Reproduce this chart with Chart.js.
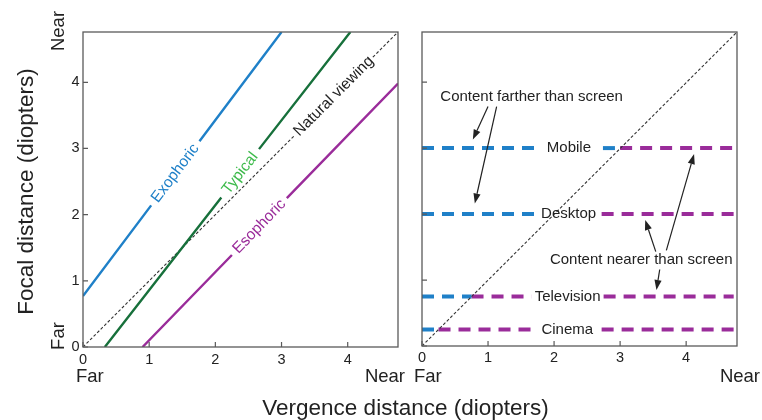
<!DOCTYPE html>
<html>
<head>
<meta charset="utf-8">
<script src="https://cdn.jsdelivr.net/npm/chart.js@4.4.1/dist/chart.umd.min.js"></script>
<style>
  html, body { margin: 0; padding: 0; background: #fff; }
  #wrap { position: relative; width: 762px; height: 420px; overflow: hidden; }
  canvas { position: absolute; top: 0; }
  #left { left: 0; }
  #right { left: 400px; }
</style>
</head>
<body>
<div id="wrap">
  <canvas id="left" width="762" height="420"></canvas>
  <canvas id="right" width="362" height="420"></canvas>
</div>
<script>
// ---- Left panel: vergence vs. focal distance by phoria ----
const tickValues = [0, 1, 2, 3, 4];
const leftMax = 4.76;

// Each line is two segments; the null entry is the gap left for its label
const exophoricX = [0, 1.03, null, 1.76, 3.0];
const exophoricY = [0.77, 2.14, null, 3.11, 4.76];
const typicalX   = [0.33, 2.09, null, 2.66, 4.04];
const typicalY   = [0, 2.26, null, 2.99, 4.76];
const esophoricX = [0.90, 2.25, null, 3.08, 4.76];
const esophoricY = [0, 1.39, null, 2.25, 3.98];
const naturalX   = [0, 3.2, null, 4.38, 4.76];
const naturalY   = [0, 3.2, null, 4.38, 4.76];

// ---- Right panel: screen distance per viewing device ----
const devices        = ['Mobile', 'Desktop', 'Television', 'Cinema'];
const screenDiopters = [3, 2, 0.75, 0.25];
const labelFrom      = [1.71, 1.72, 1.66, 1.68];
const labelTo        = [2.74, 2.72, 2.75, 2.72];
const deviceLineEnd  = 4.72;
const rightMaxX = 4.77;
const rightMaxY = 4.76;

const FONT = "'Liberation Sans', Arial, Helvetica, sans-serif";
const TEXT = '#222';
const BLUE = '#1f80c8';
const PURPLE = '#9a2c9a';
const DKGREEN = '#17703b';
const LTGREEN = '#3dba4b';

function toPoints(xs, ys) {
  return xs.map((x, i) => x === null ? { x: xs[i - 1], y: null } : { x: x, y: ys[i] });
}

function fixedTicks(scale) {
  scale.ticks = tickValues.map(v => ({ value: v }));
}

// Box round the plot area with short inward tick marks
const framePlugin = {
  id: 'frame',
  afterDatasetsDraw(chart) {
    const { ctx, chartArea: a, scales } = chart;
    ctx.save();
    ctx.strokeStyle = '#5a5a5a';
    ctx.lineWidth = 1.3;
    ctx.strokeRect(a.left, a.top, a.right - a.left, a.bottom - a.top);
    ctx.lineWidth = 1.2;
    ctx.beginPath();
    scales.x.ticks.forEach(t => {
      const px = scales.x.getPixelForValue(t.value);
      ctx.moveTo(px, a.bottom);
      ctx.lineTo(px, a.bottom - 5);
    });
    scales.y.ticks.forEach(t => {
      const py = scales.y.getPixelForValue(t.value);
      ctx.moveTo(a.left, py);
      ctx.lineTo(a.left + 5, py);
    });
    ctx.stroke();
    ctx.restore();
  }
};

// ---------- Left chart ----------
const leftSeries = [
  { name: 'Exophoric', xs: exophoricX, ys: exophoricY, color: BLUE, textColor: BLUE, width: 2.4, dash: [] },
  { name: 'Typical', xs: typicalX, ys: typicalY, color: DKGREEN, textColor: LTGREEN, width: 2.4, dash: [] },
  { name: 'Esophoric', xs: esophoricX, ys: esophoricY, color: PURPLE, textColor: PURPLE, width: 2.4, dash: [] },
  { name: 'Natural viewing', xs: naturalX, ys: naturalY, color: '#333', textColor: TEXT, width: 1.1, dash: [3, 2] }
];

const lineLabelPlugin = {
  id: 'lineLabels',
  afterDatasetsDraw(chart) {
    const { ctx, scales } = chart;
    ctx.save();
    ctx.font = '15.5px ' + FONT;
    ctx.textAlign = 'center';
    ctx.textBaseline = 'middle';
    leftSeries.forEach(s => {
      const g = s.xs.indexOf(null);
      const x1 = scales.x.getPixelForValue(s.xs[g - 1]);
      const y1 = scales.y.getPixelForValue(s.ys[g - 1]);
      const x2 = scales.x.getPixelForValue(s.xs[g + 1]);
      const y2 = scales.y.getPixelForValue(s.ys[g + 1]);
      ctx.save();
      ctx.translate((x1 + x2) / 2, (y1 + y2) / 2);
      ctx.rotate(Math.atan2(y2 - y1, x2 - x1));
      ctx.fillStyle = s.textColor;
      ctx.fillText(s.name, 0, 0);
      ctx.restore();
    });
    ctx.restore();
  }
};

const leftTextPlugin = {
  id: 'leftText',
  afterDraw(chart) {
    const { ctx } = chart;
    ctx.save();
    ctx.fillStyle = TEXT;
    ctx.textBaseline = 'alphabetic';
    // y axis title and end labels
    ctx.font = '22.5px ' + FONT;
    ctx.save();
    ctx.translate(33, 191.5);
    ctx.rotate(-Math.PI / 2);
    ctx.textAlign = 'center';
    ctx.fillText('Focal distance (diopters)', 0, 0);
    ctx.restore();
    ctx.font = '18.5px ' + FONT;
    ctx.save();
    ctx.translate(63.5, 31);
    ctx.rotate(-Math.PI / 2);
    ctx.textAlign = 'center';
    ctx.fillText('Near', 0, 0);
    ctx.restore();
    ctx.save();
    ctx.translate(63.5, 336);
    ctx.rotate(-Math.PI / 2);
    ctx.textAlign = 'center';
    ctx.fillText('Far', 0, 0);
    ctx.restore();
    // x end labels
    ctx.textAlign = 'left';
    ctx.fillText('Far', 76, 382);
    ctx.textAlign = 'right';
    ctx.fillText('Near', 405, 382);
    // shared x axis title
    ctx.font = '22.5px ' + FONT;
    ctx.textAlign = 'center';
    ctx.fillText('Vergence distance (diopters)', 405.5, 415);
    ctx.restore();
  }
};

new Chart(document.getElementById('left'), {
  type: 'scatter',
  data: {
    datasets: leftSeries.map(s => ({
      label: s.name,
      data: toPoints(s.xs, s.ys),
      showLine: true,
      spanGaps: false,
      borderColor: s.color,
      borderWidth: s.width,
      borderDash: s.dash,
      pointRadius: 0,
      pointHoverRadius: 0
    }))
  },
  options: {
    responsive: false,
    animation: false,
    events: [],
    devicePixelRatio: 1,
    layout: { padding: { left: 0, top: 32, right: 364, bottom: 0 } },
    plugins: { legend: { display: false }, tooltip: { enabled: false } },
    scales: {
      x: {
        type: 'linear', min: 0, max: leftMax,
        afterBuildTicks: fixedTicks,
        afterFit: s => { s.height = 73; },
        grid: { display: false, drawTicks: false },
        border: { display: false },
        ticks: { padding: 4, color: TEXT, font: { family: FONT, size: 14.5 } }
      },
      y: {
        type: 'linear', min: 0, max: leftMax,
        afterBuildTicks: fixedTicks,
        afterFit: s => { s.width = 83; },
        grid: { display: false, drawTicks: false },
        border: { display: false },
        ticks: { padding: 3.5, color: TEXT, font: { family: FONT, size: 14.5 } }
      }
    }
  },
  plugins: [framePlugin, lineLabelPlugin, leftTextPlugin]
});

// ---------- Right chart ----------
function cutOut(seg, gap) {
  const [s, e] = seg, [a, b] = gap;
  if (e <= a || s >= b) return [seg];
  const out = [];
  if (s < a) out.push([s, a]);
  if (e > b) out.push([b, e]);
  return out;
}

const rightDatasets = [
  {
    label: 'Natural viewing',
    data: [{ x: 0, y: 0 }, { x: rightMaxX, y: rightMaxY }],
    showLine: true, borderColor: '#333', borderWidth: 1.1, borderDash: [3, 2], pointRadius: 0
  }
];
devices.forEach((d, i) => {
  const y = screenDiopters[i];
  const gap = [labelFrom[i], labelTo[i]];
  const parts = [
    { seg: [0, y], color: BLUE },
    { seg: [y, deviceLineEnd], color: PURPLE }
  ];
  parts.forEach(p => {
    cutOut(p.seg, gap).forEach(([s, e]) => {
      rightDatasets.push({
        label: d,
        data: [{ x: s, y: y }, { x: e, y: y }],
        showLine: true,
        borderColor: p.color,
        borderWidth: 4,
        borderDash: [12, 8],
        borderCapStyle: 'butt',
        pointRadius: 0
      });
    });
  });
});

// Callouts, in data units: [fromX, fromY, tipX, tipY]
const callouts = [
  { text: 'Content farther than screen', at: [1.66, 3.78],
    arrows: [[1.0, 3.63, 0.77, 3.13], [1.13, 3.63, 0.80, 2.16]] },
  { text: 'Content nearer than screen', at: [3.32, 1.30],
    arrows: [[3.54, 1.43, 3.38, 1.91], [3.70, 1.45, 4.12, 2.91], [3.60, 1.16, 3.55, 0.85]] }
];

function drawArrow(ctx, x1, y1, x2, y2) {
  const ang = Math.atan2(y2 - y1, x2 - x1);
  const hl = 10, hw = 3.6;
  const bx = x2 - hl * Math.cos(ang), by = y2 - hl * Math.sin(ang);
  ctx.beginPath();
  ctx.moveTo(x1, y1);
  ctx.lineTo(bx, by);
  ctx.stroke();
  ctx.beginPath();
  ctx.moveTo(x2, y2);
  ctx.lineTo(bx + hw * Math.sin(ang), by - hw * Math.cos(ang));
  ctx.lineTo(bx - hw * Math.sin(ang), by + hw * Math.cos(ang));
  ctx.closePath();
  ctx.fill();
}

const rightTextPlugin = {
  id: 'rightText',
  afterDatasetsDraw(chart) {
    const { ctx, scales } = chart;
    const X = v => scales.x.getPixelForValue(v);
    const Y = v => scales.y.getPixelForValue(v);
    ctx.save();
    ctx.fillStyle = TEXT;
    ctx.strokeStyle = TEXT;
    ctx.lineWidth = 1.2;
    ctx.font = '15px ' + FONT;
    ctx.textAlign = 'center';
    ctx.textBaseline = 'middle';
    devices.forEach((d, i) => {
      ctx.fillText(d, X((labelFrom[i] + labelTo[i]) / 2), Y(screenDiopters[i]));
    });
    callouts.forEach(c => {
      ctx.fillText(c.text, X(c.at[0]), Y(c.at[1]));
      c.arrows.forEach(a => drawArrow(ctx, X(a[0]), Y(a[1]), X(a[2]), Y(a[3])));
    });
    ctx.restore();
  },
  afterDraw(chart) {
    const { ctx } = chart;
    ctx.save();
    ctx.fillStyle = TEXT;
    ctx.font = '18.5px ' + FONT;
    ctx.textBaseline = 'alphabetic';
    ctx.textAlign = 'left';
    ctx.fillText('Far', 14, 382);
    ctx.textAlign = 'right';
    ctx.fillText('Near', 360, 382);
    ctx.restore();
  }
};

new Chart(document.getElementById('right'), {
  type: 'scatter',
  data: { datasets: rightDatasets },
  options: {
    responsive: false,
    animation: false,
    events: [],
    devicePixelRatio: 1,
    layout: { padding: { left: 0, top: 32, right: 25, bottom: 0 } },
    plugins: { legend: { display: false }, tooltip: { enabled: false } },
    scales: {
      x: {
        type: 'linear', min: 0, max: rightMaxX,
        afterBuildTicks: fixedTicks,
        afterFit: s => { s.height = 74; },
        grid: { display: false, drawTicks: false },
        border: { display: false },
        ticks: { padding: 3, color: TEXT, font: { family: FONT, size: 14.5 } }
      },
      y: {
        type: 'linear', min: 0, max: rightMaxY,
        afterBuildTicks: fixedTicks,
        afterFit: s => { s.width = 22; },
        grid: { display: false, drawTicks: false },
        border: { display: false },
        ticks: { display: false }
      }
    }
  },
  plugins: [framePlugin, rightTextPlugin]
});
</script>
</body>
</html>
